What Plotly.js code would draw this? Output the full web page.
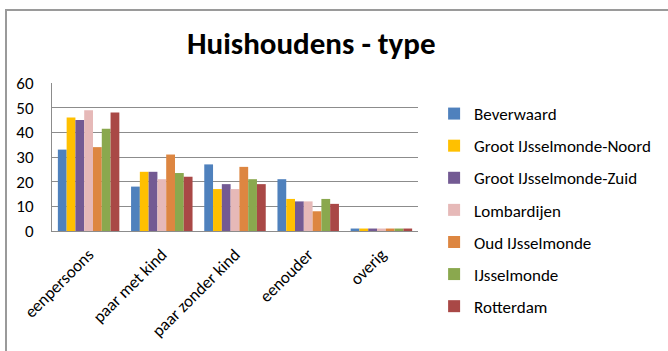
<!DOCTYPE html>
<html>
<head>
<meta charset="utf-8">
<script src="https://cdn.plot.ly/plotly-3.0.1.min.js"></script>
<style>
html,body{margin:0;padding:0;background:#fff;}
#wrap{position:relative;width:668px;height:351px;overflow:hidden;}
#chart{width:668px;height:351px;}
#frame{position:absolute;left:5px;top:9px;width:700px;height:400px;border-left:2px solid #9a9a9a;border-top:2px solid #9a9a9a;pointer-events:none;box-sizing:border-box;}
</style>
</head>
<body>
<div id="wrap"><div id="chart"></div><div id="frame"></div></div>
<script>
var categories = ["eenpersoons", "paar met kind", "paar zonder kind", "eenouder", "overig"];
var seriesNames = ["Beverwaard", "Groot IJsselmonde-Noord", "Groot IJsselmonde-Zuid", "Lombardijen", "Oud IJsselmonde", "IJsselmonde", "Rotterdam"];
var beverwaard = [33, 18, 27, 21, 1];
var grootNoord = [46, 24, 17, 13, 1];
var grootZuid = [45, 24, 19, 12, 1];
var lombardijen = [49, 21, 17, 12, 1];
var oudIJsselmonde = [34, 31, 26, 8, 1];
var ijsselmonde = [41.5, 23.5, 21, 13, 1];
var rotterdam = [48, 22, 19, 11, 1];
var seriesValues = [beverwaard, grootNoord, grootZuid, lombardijen, oudIJsselmonde, ijsselmonde, rotterdam];
var colors = ["#4f81bd", "#ffc000", "#735a93", "#e6b9b8", "#dd8641", "#8aa84e", "#a94846"];
var yTicks = [0, 10, 20, 30, 40, 50, 60];

var FONT = "Carlito, Lato, 'Open Sans', sans-serif";
var traces = seriesNames.map(function(n, i){
  return {
    type: "bar", name: n, x: categories, y: seriesValues[i],
    marker: {color: colors[i], line: {width: 0}},
    legendgroup: "g" + i
  };
});

var layout = {
  width: 668, height: 351,
  margin: {l: 52, r: 234, t: 83, b: 120},
  paper_bgcolor: "#fff", plot_bgcolor: "#fff",
  barmode: "group", bargap: 0.16, bargroupgap: 0,
  title: {text: "<b>Huishoudens - type</b>", font: {family: FONT, size: 31, color: "#000"}, x: 0.466, xanchor: "center", y: 0.876, yanchor: "middle"},
  font: {family: FONT, color: "#000"},
  xaxis: {
    tickangle: -45, tickfont: {size: 17, family: FONT, color: "#000"},
    showline: true, linecolor: "#8c8c8c", linewidth: 1, ticks: "", showgrid: false,
    ticklabelstandoff: 6, fixedrange: true
  },
  yaxis: {
    range: [0, 60], tickvals: yTicks, ticktext: yTicks.map(String),
    tickfont: {size: 17, family: FONT, color: "#000"},
    showgrid: true, gridcolor: "#8c8c8c", gridwidth: 1,
    showline: true, linecolor: "#8c8c8c", linewidth: 1,
    zeroline: false, ticks: "", ticklabelstandoff: 14, fixedrange: true
  },
  legend: {
    x: 1.044, xanchor: "left", y: 0.912, yanchor: "top",
    font: {size: 17, family: FONT, color: "#000"},
    traceorder: "grouped", tracegroupgap: 7,
    itemwidth: 30, bgcolor: "rgba(0,0,0,0)", maxheight: 340
  },
  showlegend: true
};
Plotly.newPlot("chart", traces, layout, {displayModeBar: false, staticPlot: true});
</script>
</body>
</html>
